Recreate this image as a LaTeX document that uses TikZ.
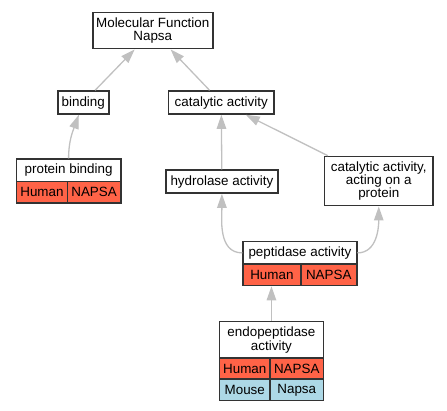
\documentclass[tikz,border=0pt]{standalone}
\usepackage{fontspec}
\setmainfont{Liberation Sans}
\usepackage{tikz}
\usetikzlibrary{arrows.meta}
\definecolor{tomato}{RGB}{255, 99, 71}
\definecolor{lightblue}{RGB}{173, 216, 230}
\definecolor{edgegray}{RGB}{192, 192, 192}
\definecolor{bordergray}{RGB}{51, 51, 51}

\tikzset{
    term/.style={draw=bordergray, line width=1.5pt, fill=white, align=center, inner sep=0pt,
                 anchor=north west, font=\fontsize{13.4}{13.3}\selectfont},
    human/.style={term, fill=tomato, minimum height=21.5pt},
    mouse/.style={term, fill=lightblue, minimum height=21.5pt},
    isa/.style={draw=edgegray, line width=1.3pt, -{Triangle[length=14pt, width=9.5pt]}},
}

\begin{document}
\begin{tikzpicture}[x=1pt, y=-1pt]
            \useasboundingbox                                                 (0.00, 0.00) rectangle (447.00, 411.00);
            % Root term
            \node[term, minimum width=120pt,   minimum height=36pt]   (mf)              at ( 92.0,  12.0) {Molecular Function\\Napsa};
            % Second level
            \node[term, minimum width=51pt,    minimum height=23pt]   (binding)         at ( 57.0,  90.3) {binding};
            \node[term, minimum width=105.6pt, minimum height=23pt]   (catalytic)       at (167.7,  90.3) {catalytic activity};
            % Protein binding
            \node[term, minimum width=104.3pt, minimum height=22.4pt] (pbind)           at ( 15.7, 158.3) {protein binding};
            \node[human, minimum width=51pt]                          (pbindHs)         at ( 15.7, 180.7) {Human};
            \node[human, minimum width=53.3pt]                        (pbindHsGene)     at ( 66.7, 180.7) {NAPSA};
            % Hydrolase & acting on a protein
            \node[term, minimum width=112.3pt, minimum height=23pt]   (hydrolase)       at (165.0, 169.3) {hydrolase activity};
            \node[term, minimum width=108.6pt, minimum height=49.3pt] (acting)          at (323.7, 155.7) {catalytic activity,\\acting on a\\protein};
            % Peptidase
            \node[term, minimum width=113.7pt, minimum height=22.3pt] (peptidase)       at (242.3, 241.0) {peptidase activity};
            \node[human, minimum width=57.7pt]                        (peptidaseHs)     at (242.3, 263.3) {Human};
            \node[human, minimum width=56pt]                          (peptidaseHsGene) at (300.0, 263.3) {NAPSA};
            % Endopeptidase
            \node[term, minimum width=104pt,   minimum height=36.3pt] (endo)            at (218.7, 321.0) {endopeptidase\\activity};
            \node[human, minimum width=50.6pt]                        (endoHs)          at (218.7, 357.3) {Human};
            \node[human, minimum width=53.4pt]                        (endoHsGene)      at (269.3, 357.3) {NAPSA};
            \node[mouse, minimum width=50.6pt]                        (endoMm)          at (218.7, 378.3) {Mouse};
            \node[mouse, minimum width=53.4pt]                        (endoMmGene)      at (269.3, 378.3) {Napsa};
            % is_a links
            \draw[isa] (binding)         -- (mf);
            \draw[isa] (catalytic)       -- (mf);
            \draw[isa] (hydrolase)       -- (catalytic);
            \draw[isa] (acting)          -- (catalytic);
            \draw[isa] (pbind.north)     to[out=90,  in=-110] (binding.-110);
            \draw[isa] (peptidase.west)  to[out=180, in=-90]  (hydrolase.south);
            \draw[isa] (peptidase.east)  to[out=0,   in=-90]  (acting.south);
            \draw[isa] (endo.north)      -- (endo.north |- peptidaseHs.south);
\end{tikzpicture}
\end{document}
